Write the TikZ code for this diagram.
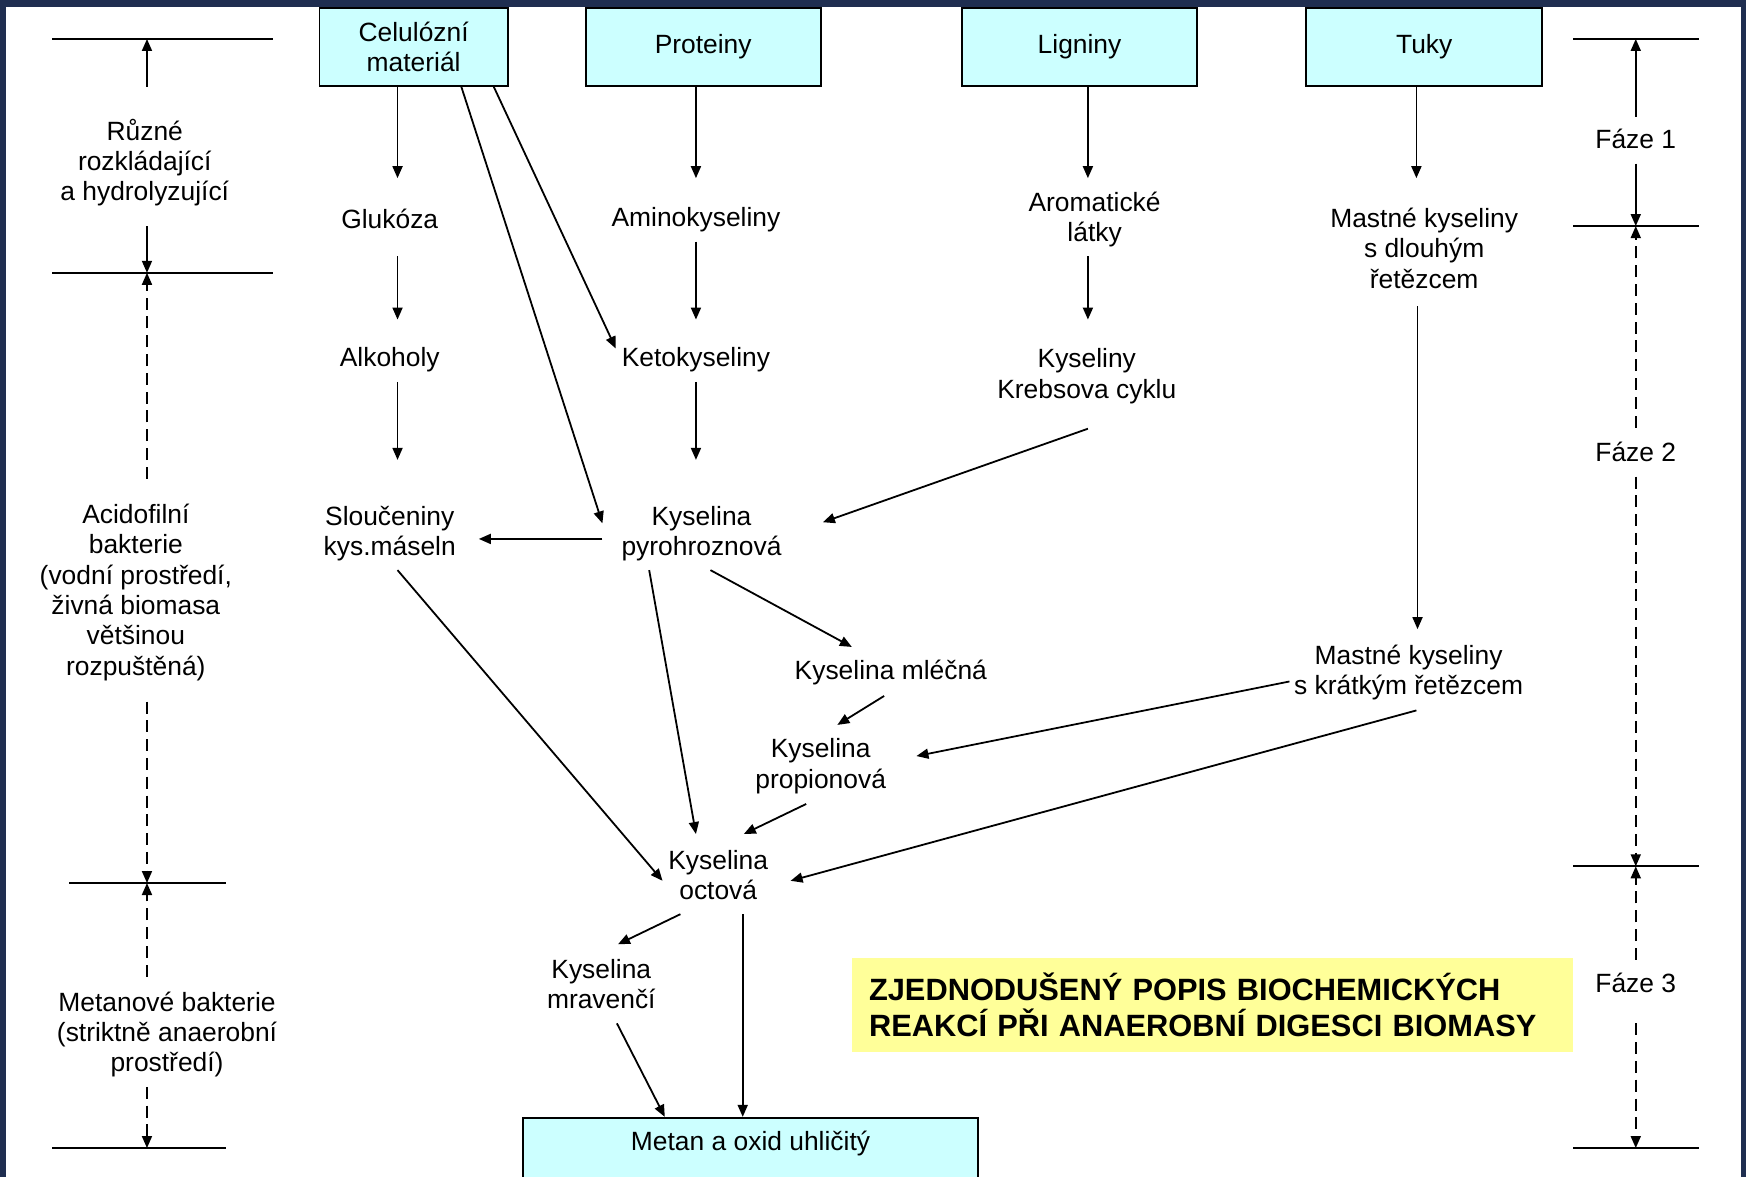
\documentclass[tikz,border=0pt]{standalone}
\usepackage{fontspec}
\setmainfont{Liberation Sans}
\usetikzlibrary{arrows.meta}
\usetikzlibrary{calc}
\definecolor{ramec}{RGB}{31,46,80}
\definecolor{azur}{RGB}{204,255,255}
\definecolor{zluta}{RGB}{255,255,153}

\begin{document}
\begin{tikzpicture}[x=0.5568pt,y=-0.5568pt]
\tikzstyle{zdroj}=[rectangle,draw=black,fill=azur,line width=0.9pt,
align=center,minimum height=39pt,inner sep=2pt,font=\fontsize{13.2}{15.2}\selectfont]
\tikzstyle{latka}=[align=center,inner sep=0pt,font=\fontsize{13.2}{15.2}\selectfont]
\tikzstyle{sip}=[-{Triangle[length=6pt,width=5pt]},line width=0.9pt]
\tikzstyle{carka}=[sip,dash pattern=on 6pt off 3.4pt]
\tikzstyle{mez}=[line width=0.9pt]
\tikzstyle{nazev}=[anchor=north west,fill=zluta,text width=343.4pt,minimum height=46.8pt,
inner xsep=8.4pt,align=left,font=\fontsize{15.4}{17.8}\selectfont\bfseries]
% pozadi a ramecek
\fill[ramec] (0,0) rectangle (1568,1057);
\fill[white] (5.4,6.3) rectangle (1563.5,1057);
\useasboundingbox (0,0) rectangle (1568,1057);
% vychozi latky
\node[zdroj,minimum width=94.1pt] (celu) at (371.5,42) {Celulózní\\materiál};
\node[zdroj,minimum width=117.5pt] (prot) at (631.5,42) {Proteiny};
\node[zdroj,minimum width=117.5pt] (lign) at (969.5,42) {Ligniny};
\node[zdroj,minimum width=118pt] (tuky) at (1279,42) {Tuky};
% meziprodukty
\node[latka] (gluk) at (350,197) {Glukóza};
\node[latka] (amino) at (625,197) {Aminokyseliny};
\node[latka] (arom) at (983,197) {Aromatické\\látky};
\node[latka] (mastdl) at (1279,223) {Mastné kyseliny\\s dlouhým\\řetězcem};
\node[latka] (alko) at (350,323) {Alkoholy};
\node[latka] (keto) at (625,323) {Ketokyseliny};
\node[latka] (krebs) at (976,338) {Kyseliny\\Krebsova cyklu};
\node[latka] (slouc) at (350,479) {Sloučeniny\\kys.máseln};
\node[latka] (pyro) at (630,479) {Kyselina\\pyrohroznová};
\node[latka] (mlec) at (800,604) {Kyselina mléčná};
\node[latka] (mastkr) at (1265,604) {Mastné kyseliny\\s krátkým řetězcem};
\node[latka] (prop) at (737,688) {Kyselina\\propionová};
\node[latka] (octo) at (645,786) {Kyselina\\octová};
\node[latka] (mrav) at (540,884) {Kyselina\\mravenčí};
\node[zdroj,anchor=north,minimum width=227.2pt,inner ysep=0pt,
text height=16.6pt,text depth=28pt] (metan) at (674,1003) {Metan a oxid uhličitý};
\node[nazev] (titul) at (765,860) {ZJEDNODUŠENÝ POPIS BIOCHEMICKÝCH\\REAKCÍ PŘI ANAEROBNÍ DIGESCI BIOMASY};
% reakce
\draw[sip] ($(celu)+(-14.5,35)$) -- ($(gluk)+(7,-37)$);
\draw[sip] ($(celu)+(42.5,35)$) -- ($(pyro)+(-89,-9)$);
\draw[sip] ($(celu)+(71.5,35)$) -- ($(keto)+(-72,-10)$);
\draw[sip] ($(gluk)+(7,33)$) -- ($(alko)+(7,-36)$);
\draw[sip] ($(alko)+(7,20)$) -- ($(slouc)+(7,-66)$);
\draw[sip] ($(prot)+(-6.5,35)$) -- ($(amino)+(0,-37)$);
\draw[sip] ($(amino)+(0,20)$) -- ($(keto)+(0,-36)$);
\draw[sip] ($(keto)+(0,20)$) -- ($(pyro)+(-5,-66)$);
\draw[sip] ($(lign)+(7.5,35)$) -- ($(arom)+(-6,-37)$);
\draw[sip] ($(arom)+(-6,33)$) -- ($(krebs)+(1,-51)$);
\draw[sip] ($(krebs)+(1,47)$) -- ($(pyro)+(109,-10)$);
\draw[sip] ($(tuky)+(-7,35)$) -- ($(mastdl)+(-7,-63)$);
\draw[sip] ($(mastdl)+(-6,52)$) -- ($(mastkr)+(8,-39)$);
\draw[sip] ($(pyro)+(-89,5)$) -- ($(slouc)+(80,5)$);
\draw[sip] ($(pyro)+(8,33)$) -- ($(mlec)+(-35,-23)$);
\draw[sip] ($(pyro)+(-47,33)$) -- ($(octo)+(-20,-37)$);
\draw[sip] ($(slouc)+(7,33)$) -- ($(octo)+(-50,5)$);
\draw[sip] ($(mlec)+(-6,21)$) -- ($(prop)+(15,-37)$);
\draw[sip] ($(mastkr)+(-107,8)$) -- ($(prop)+(86,-9)$);
\draw[sip] ($(mastkr)+(7,34)$) -- ($(octo)+(65,5)$);
\draw[sip] ($(prop)+(-13,34)$) -- ($(octo)+(23,-37)$);
\draw[sip] ($(octo)+(-34,35)$) -- ($(mrav)+(15,-36)$);
\draw[sip] ($(octo)+(22,35)$) -- ($(metan.north)+(-7,0)$);
\draw[sip] ($(mrav)+(14,35)$) -- ($(metan.north)+(-77,0)$);
% skupiny bakterii vlevo
\node[latka] (ruzne) at (130,146) {Různé\\rozkládající\\a hydrolyzující};
\node[latka] (acido) at (122,532) {Acidofilní\\bakterie\\(vodní prostředí,\\živná biomasa\\většinou\\rozpuštěná)};
\node[latka] (metbak) at (150,929) {Metanové bakterie\\(striktně anaerobní\\prostředí)};
\coordinate (la) at (132,35);
\coordinate (lb) at (132,245);
\coordinate (lc) at (132,793);
\coordinate (ld) at (132,1031);
\draw[mez] ($(la)+(-85,0)$) -- ($(la)+(113,0)$);
\draw[mez] ($(lb)+(-85,0)$) -- ($(lb)+(113,0)$);
\draw[mez] ($(lc)+(-70,0)$) -- ($(lc)+(71,0)$);
\draw[mez] ($(ld)+(-85,0)$) -- ($(ld)+(71,0)$);
\draw[sip] ($(ruzne)+(2,-68)$) -- (la);
\draw[sip] ($(ruzne)+(2,57)$) -- (lb);
\draw[carka] ($(acido)+(10,-102)$) -- (lb);
\draw[carka] ($(acido)+(10,98)$) -- (lc);
\draw[carka] ($(metbak)+(-18,-52)$) -- (lc);
\draw[carka] ($(metbak)+(-18,47)$) -- (ld);
% faze vpravo
\node[latka] (faze1) at (1469,125) {Fáze 1};
\node[latka] (faze2) at (1469,406) {Fáze 2};
\node[latka] (faze3) at (1469,883) {Fáze 3};
\coordinate (ra) at (1469,35);
\coordinate (rb) at (1469,203);
\coordinate (rc) at (1469,778);
\coordinate (rd) at (1469,1031);
\draw[mez] ($(ra)+(-56,0)$) -- ($(ra)+(57,0)$);
\draw[mez] ($(rb)+(-56,0)$) -- ($(rb)+(57,0)$);
\draw[mez] ($(rc)+(-56,0)$) -- ($(rc)+(57,0)$);
\draw[mez] ($(rd)+(-56,0)$) -- ($(rd)+(57,0)$);
\draw[sip] ($(faze1)+(0,-20)$) -- (ra);
\draw[sip] ($(faze1)+(0,22)$) -- (rb);
\draw[carka] ($(faze2)+(0,-22)$) -- (rb);
\draw[carka] ($(faze2)+(0,22)$) -- (rc);
\draw[carka] ($(faze3)+(0,-21)$) -- (rc);
\draw[carka] ($(faze3)+(0,36)$) -- (rd);
\end{tikzpicture}
\end{document}
